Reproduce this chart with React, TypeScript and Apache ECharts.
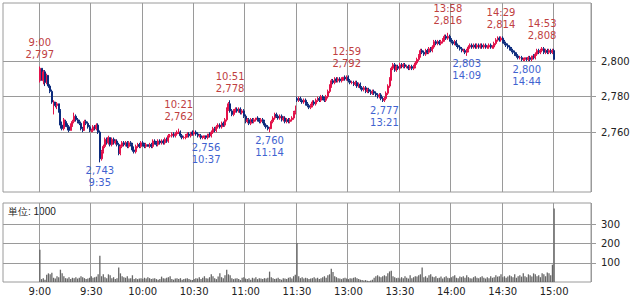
import React, { useEffect, useRef } from 'react';
import * as echarts from 'echarts';

// ---- data -------------------------------------------------------------
const TICK_LABELS = ['9:00', '9:30', '10:00', '10:30', '11:00', '11:30', '13:00', '13:30', '14:00', '14:30', '15:00'];
const TICK_STEP = 30;
const PAD_BEFORE = 21;
const PAD_AFTER = 21;
const PRICE_TICKS = [2760, 2780, 2800];
const VOLUME_TICKS = [100, 200, 300];
const PRICE_MIN = 2726.3;
const PRICE_MAX = 2832.8;
const VOLUME_MAX = 411;
const VOLUME_UNIT = '単位: 1000';

// one row per minute: [open, close, low, high]
const CANDLES: number[][] = [
  // 9:00 - 11:29
  [2789,2796,2788,2797],[2796,2790,2789,2796],[2789,2794,2787,2795],[2794,2788,2786,2795],[2788,2792,2787,2793],
  [2792,2786,2785,2792],[2786,2783,2782,2787],[2783,2777,2776,2784],[2776,2777,2770,2778],[2777,2775,2774,2777],
  [2775,2776,2773,2777],[2776,2772,2771,2776],[2772,2764,2762,2773],[2764,2762,2761,2766],[2762,2767,2761,2768],
  [2766,2764,2763,2767],[2764,2763,2761,2765],[2763,2761,2760,2764],[2761,2764,2761,2765],[2764,2766,2763,2767],
  [2766,2769,2765,2771],[2769,2767,2766,2770],[2767,2766,2765,2768],[2766,2765,2764,2767],[2765,2762,2761,2766],
  [2762,2761,2760,2763],[2761,2766,2761,2767],[2766,2765,2764,2767],[2765,2763,2762,2766],[2763,2761,2760,2764],
  [2761,2761,2760,2762],[2761,2763,2760,2764],[2763,2762,2761,2764],[2762,2764,2761,2765],[2764,2760,2759,2765],
  [2760,2745,2743,2761],[2745,2749,2744,2750],[2749,2752,2748,2753],[2752,2756,2751,2757],[2756,2754,2753,2757],
  [2754,2757,2753,2758],[2757,2753,2752,2757],[2753,2756,2752,2757],[2756,2754,2753,2757],[2754,2755,2753,2756],
  [2755,2753,2752,2756],[2753,2748,2747,2754],[2748,2752,2747,2753],[2752,2754,2751,2755],[2754,2753,2752,2755],
  [2753,2754,2752,2755],[2754,2752,2751,2755],[2752,2754,2751,2755],[2754,2753,2752,2755],[2753,2750,2749,2754],
  [2750,2749,2748,2752],[2749,2752,2748,2753],[2752,2753,2751,2754],[2753,2752,2751,2754],[2752,2754,2751,2755],
  [2754,2753,2752,2755],[2753,2752,2751,2754],[2752,2753,2751,2754],[2753,2752,2752,2753],[2752,2753,2751,2754],
  [2753,2752,2751,2754],[2752,2755,2751,2756],[2755,2754,2753,2756],[2754,2753,2752,2755],[2753,2755,2752,2756],
  [2755,2754,2753,2756],[2754,2755,2753,2756],[2755,2754,2753,2756],[2754,2756,2753,2757],[2756,2755,2754,2757],
  [2755,2758,2754,2759],[2758,2758,2757,2759],[2758,2759,2757,2760],[2759,2758,2757,2760],[2758,2759,2757,2760],
  [2759,2760,2758,2761],[2760,2760,2759,2762],[2760,2758,2757,2761],[2758,2757,2756,2759],[2757,2757,2756,2758],
  [2757,2758,2756,2759],[2758,2759,2757,2760],[2759,2758,2757,2760],[2758,2760,2757,2760],[2760,2759,2758,2761],
  [2759,2760,2758,2761],[2760,2759,2758,2761],[2759,2758,2757,2760],[2758,2758,2757,2759],[2758,2757,2756,2759],
  [2757,2757,2756,2758],[2757,2758,2756,2758],[2758,2757,2756,2758],[2757,2759,2756,2759],[2759,2758,2757,2760],
  [2758,2760,2757,2761],[2760,2762,2759,2763],[2762,2761,2760,2763],[2761,2763,2760,2764],[2763,2764,2762,2765],
  [2764,2763,2762,2765],[2763,2765,2762,2766],[2765,2764,2763,2766],[2764,2767,2763,2768],[2767,2773,2766,2774],
  [2773,2776,2772,2777],[2776,2772,2771,2778],[2772,2770,2769,2773],[2770,2772,2769,2773],[2772,2773,2771,2774],
  [2773,2772,2771,2774],[2772,2773,2771,2774],[2773,2771,2770,2774],[2771,2772,2770,2773],[2772,2769,2768,2773],
  [2769,2766,2765,2770],[2766,2767,2765,2768],[2767,2765,2764,2768],[2765,2767,2764,2768],[2767,2766,2765,2768],
  [2766,2767,2765,2768],[2767,2768,2766,2768],[2768,2767,2766,2769],[2767,2766,2765,2768],[2766,2767,2765,2768],
  [2767,2766,2765,2768],[2766,2764,2763,2767],[2764,2763,2762,2765],[2763,2762,2761,2764],[2762,2762,2760,2763],
  [2762,2766,2762,2767],[2766,2768,2765,2769],[2768,2770,2767,2771],[2770,2769,2768,2771],[2769,2768,2767,2770],
  [2768,2769,2767,2770],[2769,2767,2766,2770],[2767,2768,2766,2769],[2768,2766,2765,2769],[2766,2767,2765,2768],
  [2767,2766,2765,2768],[2766,2767,2765,2768],[2767,2768,2766,2769],[2768,2771,2767,2772],[2771,2772,2770,2775],
  // 12:30 - 15:00
  [2779,2778,2777,2780],[2778,2779,2777,2780],[2779,2778,2777,2780],[2778,2777,2776,2779],[2777,2778,2776,2779],
  [2778,2776,2775,2779],[2776,2775,2774,2777],[2775,2774,2773,2776],[2774,2775,2773,2776],[2775,2777,2774,2778],
  [2777,2776,2775,2778],[2776,2778,2775,2779],[2778,2779,2777,2780],[2779,2778,2777,2780],[2778,2780,2777,2781],
  [2780,2779,2778,2781],[2779,2778,2777,2780],[2778,2780,2777,2781],[2780,2783,2779,2784],[2783,2786,2782,2787],
  [2786,2789,2785,2790],[2789,2788,2787,2790],[2788,2790,2787,2791],[2790,2789,2788,2791],[2789,2790,2788,2791],
  [2790,2789,2788,2791],[2789,2790,2788,2791],[2790,2791,2789,2791],[2791,2790,2789,2792],[2790,2791,2789,2792],
  [2791,2789,2788,2792],[2789,2788,2787,2790],[2788,2788,2787,2789],[2788,2787,2786,2789],[2787,2788,2786,2789],
  [2788,2786,2785,2789],[2786,2787,2785,2788],[2787,2785,2784,2788],[2785,2784,2783,2786],[2784,2785,2783,2786],
  [2785,2783,2782,2786],[2783,2784,2782,2785],[2784,2783,2782,2785],[2783,2782,2781,2784],[2782,2783,2781,2784],
  [2783,2782,2781,2784],[2782,2781,2780,2783],[2781,2780,2779,2782],[2780,2781,2779,2782],[2781,2779,2778,2782],
  [2779,2778,2777,2780],[2778,2779,2777,2780],[2779,2782,2778,2783],[2782,2786,2781,2787],[2786,2790,2785,2791],
  [2790,2796,2789,2797],[2796,2798,2795,2799],[2798,2795,2794,2799],[2795,2797,2794,2798],[2797,2796,2795,2798],
  [2796,2798,2795,2799],[2798,2797,2796,2799],[2797,2798,2796,2799],[2798,2797,2796,2799],[2797,2797,2796,2798],
  [2797,2796,2795,2798],[2796,2797,2795,2798],[2797,2796,2795,2798],[2796,2797,2795,2798],[2797,2799,2796,2800],
  [2799,2801,2798,2802],[2801,2803,2800,2804],[2803,2806,2802,2807],[2806,2805,2804,2807],[2805,2804,2803,2806],
  [2804,2806,2803,2807],[2806,2805,2804,2807],[2805,2807,2804,2808],[2807,2806,2805,2808],[2806,2808,2805,2809],
  [2808,2811,2807,2812],[2811,2810,2809,2812],[2810,2811,2809,2812],[2811,2810,2809,2812],[2810,2811,2809,2812],
  [2811,2812,2810,2813],[2812,2814,2811,2815],[2814,2813,2812,2815],[2813,2814,2812,2816],[2814,2812,2811,2815],
  [2812,2811,2810,2813],[2811,2810,2809,2812],[2810,2811,2809,2812],[2811,2809,2808,2812],[2809,2808,2807,2810],
  [2808,2807,2806,2809],[2807,2806,2805,2808],[2806,2806,2805,2807],[2806,2805,2804,2807],[2805,2806,2803,2807],
  [2806,2808,2805,2809],[2808,2809,2807,2810],[2809,2808,2807,2810],[2808,2809,2807,2810],[2809,2808,2807,2810],
  [2808,2809,2807,2810],[2809,2808,2807,2810],[2808,2809,2807,2810],[2809,2808,2807,2810],[2808,2809,2807,2810],
  [2809,2808,2807,2810],[2808,2808,2807,2809],[2808,2809,2807,2810],[2809,2808,2807,2810],[2808,2808,2807,2809],
  [2808,2810,2807,2811],[2810,2812,2809,2813],[2812,2813,2811,2814],[2813,2812,2811,2814],[2812,2813,2811,2814],
  [2813,2811,2810,2814],[2811,2810,2809,2812],[2810,2809,2808,2811],[2809,2808,2807,2810],[2808,2807,2806,2809],
  [2807,2806,2805,2808],[2806,2805,2804,2807],[2805,2804,2803,2806],[2804,2803,2802,2805],[2803,2802,2801,2804],
  [2802,2802,2801,2803],[2802,2801,2800,2803],[2801,2801,2800,2802],[2801,2802,2800,2802],[2802,2801,2800,2802],
  [2801,2802,2800,2803],[2802,2801,2800,2803],[2801,2803,2800,2803],[2803,2802,2801,2804],[2802,2804,2801,2805],
  [2804,2806,2803,2807],[2806,2805,2804,2807],[2805,2806,2804,2807],[2806,2807,2805,2808],[2807,2805,2804,2808],
  [2805,2806,2804,2807],[2806,2805,2804,2807],[2805,2806,2804,2807],[2806,2805,2804,2807],[2805,2806,2804,2807],
  [2806,2801,2801,2807],
];

// volume per minute, in thousands
const VOLUMES: number[] = [
  168,15,20,12,38,45,40,48,22,18,30,25,64,45,30,20,18,25,15,22,20,25,18,22,30,25,20,15,18,22,
  30,22,25,28,40,137,30,40,25,20,40,35,20,25,15,20,76,45,30,25,22,30,18,20,35,15,20,15,18,20,
  15,22,18,25,20,15,18,20,15,12,15,28,20,18,22,25,30,15,12,18,20,15,20,12,15,18,20,15,12,10,
  15,20,18,25,15,22,30,20,18,25,40,30,20,15,28,45,25,20,35,64,40,35,20,15,18,20,15,10,22,25,
  18,15,20,12,22,18,25,15,20,18,15,20,18,22,54,25,20,15,18,22,15,12,20,18,15,22,25,18,30,38,
  203,30,20,25,18,22,20,15,18,20,25,18,22,15,20,25,30,22,35,40,69,52,30,25,20,18,15,20,22,18,
  15,20,18,22,25,20,15,12,10,8,10,6,5,8,12,22,30,35,28,25,30,35,30,45,55,59,30,25,20,22,
  18,25,20,30,22,18,35,20,25,30,28,35,40,76,25,30,22,35,40,28,25,30,20,22,28,18,25,30,22,20,
  25,30,35,22,20,28,25,30,22,35,25,20,18,25,30,22,20,25,30,22,18,25,20,30,22,25,35,28,30,40,
  25,30,22,28,35,30,25,40,22,30,35,28,45,30,25,40,35,28,45,40,30,35,25,45,40,30,50,45,35,90,382,
];

const HIGHS = [
  { time: '9:00', price: 2797 },
  { time: '10:21', price: 2762 },
  { time: '10:51', price: 2778 },
  { time: '12:59', price: 2792 },
  { time: '13:58', price: 2816 },
  { time: '14:29', price: 2814 },
  { time: '14:53', price: 2808 },
];
const LOWS = [
  { time: '9:35', price: 2743 },
  { time: '10:37', price: 2756 },
  { time: '11:14', price: 2760 },
  { time: '13:21', price: 2777 },
  { time: '14:09', price: 2803 },
  { time: '14:44', price: 2800 },
];

// ---- helpers ------------------------------------------------------------
const RED = '#e3124a';
const NAVY = '#0c2b7c';
const HIGH_TEXT = '#c0403f';
const LOW_TEXT = '#3f63d0';
const GRID = '#9a9a9a';
const FONT = '"DejaVu Sans", "Noto Sans CJK JP", sans-serif';

function hm(total: number): string {
  const h = Math.floor(total / 60);
  const m = total % 60;
  return `${h}:${m < 10 ? '0' : ''}${m}`;
}

function buildCategories(): string[] {
  const cats: string[] = [];
  for (let i = 0; i < PAD_BEFORE; i++) cats.push(`pre${i}`);
  for (let m = 0; m < 150; m++) cats.push(hm(9 * 60 + m));
  for (let m = 0; m <= 150; m++) cats.push(hm(12 * 60 + 30 + m));
  for (let i = 0; i < PAD_AFTER; i++) cats.push(`post${i}`);
  return cats;
}

const fmtNum = (v: number) => v.toLocaleString('en-US');

export default function App() {
  const ref = useRef<HTMLDivElement>(null);

  useEffect(() => {
    if (!ref.current) return;
    const chart = echarts.init(ref.current, undefined, { renderer: 'svg' });
    const cats = buildCategories();
    const isTick = (index: number) => {
      const k = index - PAD_BEFORE;
      return k >= 0 && k <= (TICK_LABELS.length - 1) * TICK_STEP && k % TICK_STEP === 0;
    };
    const candleData = CANDLES.map((c, i) => [cats[PAD_BEFORE + i], c[0], c[1], c[2], c[3]]);
    const volData = VOLUMES.map((v, i) => [cats[PAD_BEFORE + i], v]);

    const markLabel = (color: string, position: 'top' | 'bottom', distance: number) => ({
      show: true,
      position,
      distance,
      color,
      fontSize: 10,
      lineHeight: 12,
      fontFamily: FONT,
    });

    const highPoints = HIGHS.map((h) => ({
      coord: [h.time, h.price],
      label: { ...markLabel(HIGH_TEXT, 'top', 6), formatter: `${h.time}\n${fmtNum(h.price)}` },
    }));
    const lowPoints = LOWS.map((l) => ({
      coord: [l.time, l.price],
      label: { ...markLabel(LOW_TEXT, 'bottom', 2), formatter: `${fmtNum(l.price)}\n${l.time}` },
    }));

    const catAxisBase = {
      type: 'category' as const,
      data: cats,
      boundaryGap: true,
      axisLine: { show: false },
      axisTick: { show: false },
      splitLine: { show: true, interval: (i: number) => isTick(i), lineStyle: { color: GRID, width: 1 } },
    };

    chart.setOption({
      animation: false,
      textStyle: { fontFamily: FONT },
      grid: [
        { left: 3, top: 3, width: 588, height: 189, show: true, borderColor: GRID, borderWidth: 1, containLabel: false },
        { left: 3, top: 203, width: 588, height: 79, show: true, borderColor: GRID, borderWidth: 1, containLabel: false },
      ],
      xAxis: [
        { ...catAxisBase, gridIndex: 0, axisLabel: { show: false } },
        {
          ...catAxisBase,
          gridIndex: 1,
          axisLabel: {
            show: true,
            interval: (i: number) => isTick(i),
            formatter: (_v: string, i: number) => TICK_LABELS[(i - PAD_BEFORE) / TICK_STEP] ?? '',
            fontSize: 10,
            color: '#222',
            margin: 4,
            fontFamily: FONT,
          },
        },
      ],
      yAxis: [
        {
          type: 'value',
          gridIndex: 0,
          position: 'right',
          min: PRICE_MIN,
          max: PRICE_MAX,
          axisLine: { show: false },
          axisTick: { show: true, customValues: PRICE_TICKS, length: 5, lineStyle: { color: GRID } },
          axisLabel: {
            show: true,
            customValues: PRICE_TICKS,
            formatter: (v: number) => fmtNum(v),
            fontSize: 10,
            color: '#222',
            margin: 10,
            fontFamily: FONT,
          },
          splitLine: { show: true, lineStyle: { color: GRID, width: 1 } },
        },
        {
          type: 'value',
          gridIndex: 1,
          position: 'right',
          min: 0,
          max: VOLUME_MAX,
          axisLine: { show: false },
          axisTick: { show: true, customValues: VOLUME_TICKS, length: 5, lineStyle: { color: GRID } },
          axisLabel: {
            show: true,
            customValues: VOLUME_TICKS,
            fontSize: 10,
            color: '#222',
            margin: 10,
            fontFamily: FONT,
          },
          splitLine: { show: true, lineStyle: { color: GRID, width: 1 } },
        },
      ],
      series: [
        {
          type: 'candlestick',
          xAxisIndex: 0,
          yAxisIndex: 0,
          data: candleData,
          encode: { x: 0, y: [1, 2, 3, 4] },
          barWidth: '80%',
          itemStyle: { color: RED, color0: NAVY, borderColor: RED, borderColor0: NAVY, borderWidth: 1 },
          markPoint: {
            symbol: 'circle',
            symbolSize: 0,
            itemStyle: { color: 'rgba(0,0,0,0)' },
            data: [...highPoints, ...lowPoints],
          },
        },
        {
          type: 'bar',
          xAxisIndex: 1,
          yAxisIndex: 1,
          data: volData,
          encode: { x: 0, y: 1 },
          barWidth: '75%',
          itemStyle: { color: '#666666' },
        },
      ],
      graphic: [
        {
          type: 'text',
          left: 8,
          top: 206,
          style: { text: VOLUME_UNIT, fontSize: 10, fill: '#222', font: `10px ${FONT}` },
        },
      ],
    });

    return () => chart.dispose();
  }, []);

  return (
    <div
      ref={ref}
      style={{ position: 'fixed', left: 0, top: 0, width: 634, height: 296, background: '#fff' }}
    />
  );
}
